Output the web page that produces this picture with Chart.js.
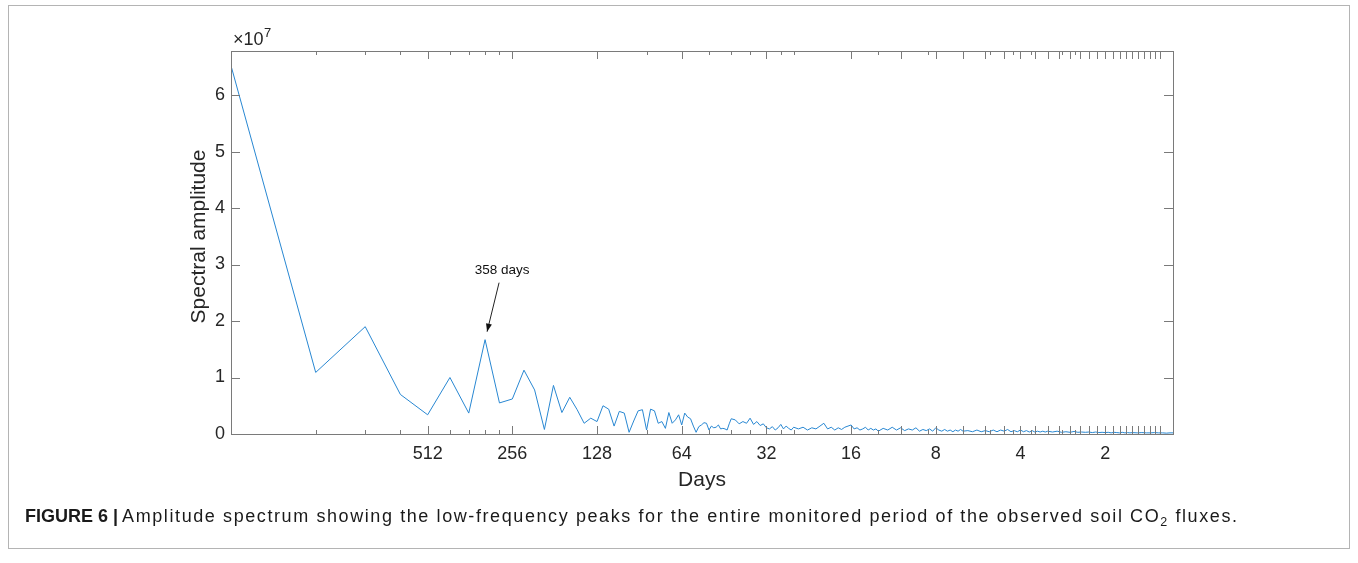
<!DOCTYPE html>
<html><head><meta charset="utf-8">
<script src="https://cdn.jsdelivr.net/npm/chart.js@4/dist/chart.umd.min.js"></script>
<style>
html,body{margin:0;padding:0;background:#fff;}
#wrap{position:relative;width:1358px;height:563px;overflow:hidden;background:#fff;}
#c{position:absolute;left:0;top:0;}
#frame{position:absolute;left:8px;top:5px;width:1342px;height:544px;border:1px solid #b4b4b4;box-sizing:border-box;}
#caption{position:absolute;left:25px;top:506px;font-family:"Liberation Sans",Arial,Helvetica,sans-serif;font-size:18px;color:#1a1a1a;white-space:nowrap;line-height:21px;}
#capHead{font-weight:bold;}
#caption sub{font-size:12.5px;vertical-align:-4px;line-height:0;}
</style></head>
<body><div id="wrap"><div id="frame"></div><canvas id="c" width="1358" height="563"></canvas>
<div id="caption"><span id="capHead">FIGURE 6 |</span> <span id="capBody">Amplitude spectrum showing the low-frequency peaks for the entire monitored period of the observed soil CO<sub>2</sub> fluxes.</span></div></div>
<script>
// frequency index k (period = ~2560 / k days)
const freqIndex = [
  1,2,3,4,5,6,7,8,9,10,11,12,13,14,15,16,17,18,19,20,21,22,23,24,25,26,27,28,29,30,
  31,32,33,34,35,36,37,38,39,40,41,42,43,44,45,46,47,48,49,50,51,52,53,54,55,56,57,58,59,60,
  62,64,66,68,70,72,74,76,78,80,82,84,86,88,90,92,94,96,98,100,
  104,108,112,116,120,124,128,132,136,140,144,148,152,156,160,164,168,172,176,180,184,188,192,196,200,
  208,216,224,232,240,248,256,264,272,280,288,296,304,312,320,328,336,344,352,360,368,376,384,392,400,
  416,432,448,464,480,496,512,528,544,560,576,592,608,624,640,656,672,688,704,720,736,752,768,784,800,
  832,864,896,928,960,992,1024,1056,1088,1120,1152,1184,1216,1248,1280,1312,1344,1376,1408,1440,1472,1504,1536,1568,1600,
  1664,1728,1792,1856,1920,1984,2048,2112,2176,2230
];
// spectral amplitude, units of 10^7
const amplitude = [
  6.52,1.09,1.90,0.70,0.34,1.00,0.37,1.67,0.55,0.62,1.13,0.78,0.08,0.86,0.38,0.65,0.43,0.19,0.28,0.22,
  0.50,0.44,0.14,0.40,0.37,0.03,0.23,0.41,0.43,0.07,
  0.44,0.41,0.19,0.22,0.10,0.38,0.19,0.25,0.34,0.16,0.37,0.30,0.27,0.14,0.03,0.13,0.16,0.20,0.19,0.07,
  0.14,0.11,0.12,0.16,0.09,0.10,0.09,0.07,0.18,0.27,
  0.25,0.18,0.22,0.19,0.28,0.17,0.22,0.15,0.18,0.11,0.09,0.13,0.07,0.11,0.17,0.09,0.14,0.10,0.07,0.12,
  0.09,0.12,0.07,0.11,0.09,0.14,0.19,0.09,0.12,0.07,0.11,0.08,0.12,0.14,0.16,0.09,0.11,0.07,0.09,0.12,0.07,0.10,0.07,0.09,0.05,
  0.10,0.07,0.12,0.07,0.11,0.06,0.09,0.07,0.11,0.05,0.08,0.06,0.09,0.05,0.11,0.07,0.05,0.08,0.05,0.07,0.04,0.07,0.05,0.08,0.05,
  0.06,0.04,0.07,0.04,0.06,0.04,0.07,0.04,0.07,0.05,0.08,0.04,0.06,0.04,0.07,0.04,0.06,0.035,0.06,0.035,0.05,0.035,0.05,0.035,0.05,
  0.035,0.05,0.03,0.04,0.03,0.045,0.03,0.035,0.03,0.035,0.025,0.035,0.025,0.03,0.025,0.03,0.02,0.03,0.025,0.02,0.03,0.02,0.025,0.02,0.025,
  0.02,0.025,0.02,0.02,0.025,0.02,0.02,0.015,0.02,0.02
];
// x-axis ticks
const labelledTicks = [5,10,20,40,80,160,320,640,1280];
const periodLabels = ['512','256','128','64','32','16','8','4','2'];
const extraMajorTicks = [240,400,480,560,720,800,880,960,1040,1120,1200,1360,1440,1520,1600,1680,1760,1840,1920,2000];
const minorTicks = [2,3,4,6,7,8,9,30,50,60,70,90,100,200,300,500,600,700,900,1000];
// y-axis ticks
const yTickValues = [0,1,2,3,4,5,6];
const yExponent = '7';
const yTitle = 'Spectral amplitude';
// annotation
const annotationK = 8;
const annotationText = '358 days';

const FONT = "'Liberation Sans', Arial, Helvetica, sans-serif";
const AXIS_COLOR = '#7a7a7a';
const TEXT_COLOR = '#262626';

const points = freqIndex.map((k, i) => ({x: k, y: amplitude[i]}));

const decor = {
  id: 'decor',
  afterDraw(chart) {
    const {ctx, chartArea: a, scales: {x, y}} = chart;
    ctx.save();
    ctx.strokeStyle = AXIS_COLOR;
    ctx.lineWidth = 1;
    // box
    ctx.strokeRect(Math.round(a.left) + 0.5, Math.round(a.top) + 0.5, Math.round(a.right - a.left), Math.round(a.bottom - a.top));
    // inward ticks on x
    const drawX = (v, len) => {
      const px = Math.round(x.getPixelForValue(v)) + 0.5;
      ctx.beginPath();
      ctx.moveTo(px, a.bottom); ctx.lineTo(px, a.bottom - len);
      ctx.moveTo(px, a.top); ctx.lineTo(px, a.top + len);
      ctx.stroke();
    };
    labelledTicks.concat(extraMajorTicks).forEach(v => drawX(v, 8));
    minorTicks.forEach(v => drawX(v, 4));
    yTickValues.forEach(v => {
      const py = Math.round(y.getPixelForValue(v)) + 0.5;
      ctx.beginPath();
      ctx.moveTo(a.left, py); ctx.lineTo(a.left + 9, py);
      ctx.moveTo(a.right, py); ctx.lineTo(a.right - 9, py);
      ctx.stroke();
    });
    // exponent label
    ctx.fillStyle = TEXT_COLOR;
    ctx.textBaseline = 'alphabetic';
    ctx.textAlign = 'left';
    ctx.font = '18px ' + FONT;
    const base = '\u00d710';
    ctx.fillText(base, a.left + 2, a.top - 6);
    const w = ctx.measureText(base).width;
    ctx.font = '13px ' + FONT;
    ctx.fillText(yExponent, a.left + 2 + w + 0.5, a.top - 14);
    // y-axis title
    ctx.save();
    ctx.font = '21px ' + FONT;
    ctx.fillStyle = TEXT_COLOR;
    ctx.textAlign = 'center';
    ctx.textBaseline = 'middle';
    ctx.translate(y.left + 28, (a.top + a.bottom) / 2 - 6);
    ctx.rotate(-Math.PI / 2);
    ctx.fillText(yTitle, 0, 0);
    ctx.restore();
    // annotation arrow
    const idx = freqIndex.indexOf(annotationK);
    const px = x.getPixelForValue(annotationK);
    const py = y.getPixelForValue(amplitude[idx]);
    const hx = px + 2, hy = py - 8;
    const tx = px + 14, ty = py - 57;
    ctx.strokeStyle = '#222';
    ctx.beginPath(); ctx.moveTo(tx, ty); ctx.lineTo(hx, hy); ctx.stroke();
    const ang = Math.atan2(hy - ty, hx - tx);
    const L = 8, W = 3;
    ctx.fillStyle = '#111';
    ctx.beginPath();
    ctx.moveTo(hx, hy);
    ctx.lineTo(hx - L * Math.cos(ang) + W * Math.sin(ang), hy - L * Math.sin(ang) - W * Math.cos(ang));
    ctx.lineTo(hx - L * Math.cos(ang) - W * Math.sin(ang), hy - L * Math.sin(ang) + W * Math.cos(ang));
    ctx.closePath(); ctx.fill();
    ctx.font = '13.5px ' + FONT;
    ctx.textAlign = 'center';
    ctx.textBaseline = 'middle';
    ctx.fillStyle = '#111';
    ctx.fillText(annotationText, px + 17, py - 69);
    ctx.restore();
  }
};

new Chart(document.getElementById('c'), {
  type: 'line',
  data: {datasets: [{data: points, borderColor: 'rgb(40,135,210)', borderWidth: 1, pointRadius: 0, tension: 0, fill: false}]},
  options: {
    responsive: false,
    animation: false,
    layout: {padding: {left: 171, right: 185, top: 51, bottom: 59}},
    plugins: {legend: {display: false}, tooltip: {enabled: false}},
    scales: {
      x: {
        type: 'logarithmic', min: 1, max: 2230, position: 'bottom',
        afterBuildTicks(s) { s.ticks = labelledTicks.map(v => ({value: v})); },
        afterFit(s) { s.height = 70; },
        grid: {display: false, drawTicks: false},
        border: {display: false},
        ticks: {autoSkip: false, maxRotation: 0, minRotation: 0, padding: 9, color: TEXT_COLOR,
          font: {family: FONT, size: 18},
          callback: (v, i) => periodLabels[i]},
        title: {display: true, text: 'Days', color: TEXT_COLOR, font: {family: FONT, size: 21}, padding: {top: 0, bottom: 11}}
      },
      y: {
        type: 'linear', min: 0, max: 6.78,
        afterBuildTicks(s) { s.ticks = yTickValues.map(v => ({value: v})); },
        afterFit(s) { s.width = 60; },
        grid: {display: false, drawTicks: false},
        border: {display: false},
        ticks: {padding: 6, color: TEXT_COLOR, font: {family: FONT, size: 18}, callback: v => String(v)},
        title: {display: false}
      }
    }
  },
  plugins: [decor]
});

// fit caption body to the reference width
(function(){
  const body = document.getElementById('capBody');
  const target = 1237 - body.getBoundingClientRect().left;
  const w = body.getBoundingClientRect().width;
  const n = body.textContent.length;
  if (w > 0 && n > 1) body.style.letterSpacing = ((target - w) / (n - 1)).toFixed(3) + 'px';
})();
</script>
</body></html>
